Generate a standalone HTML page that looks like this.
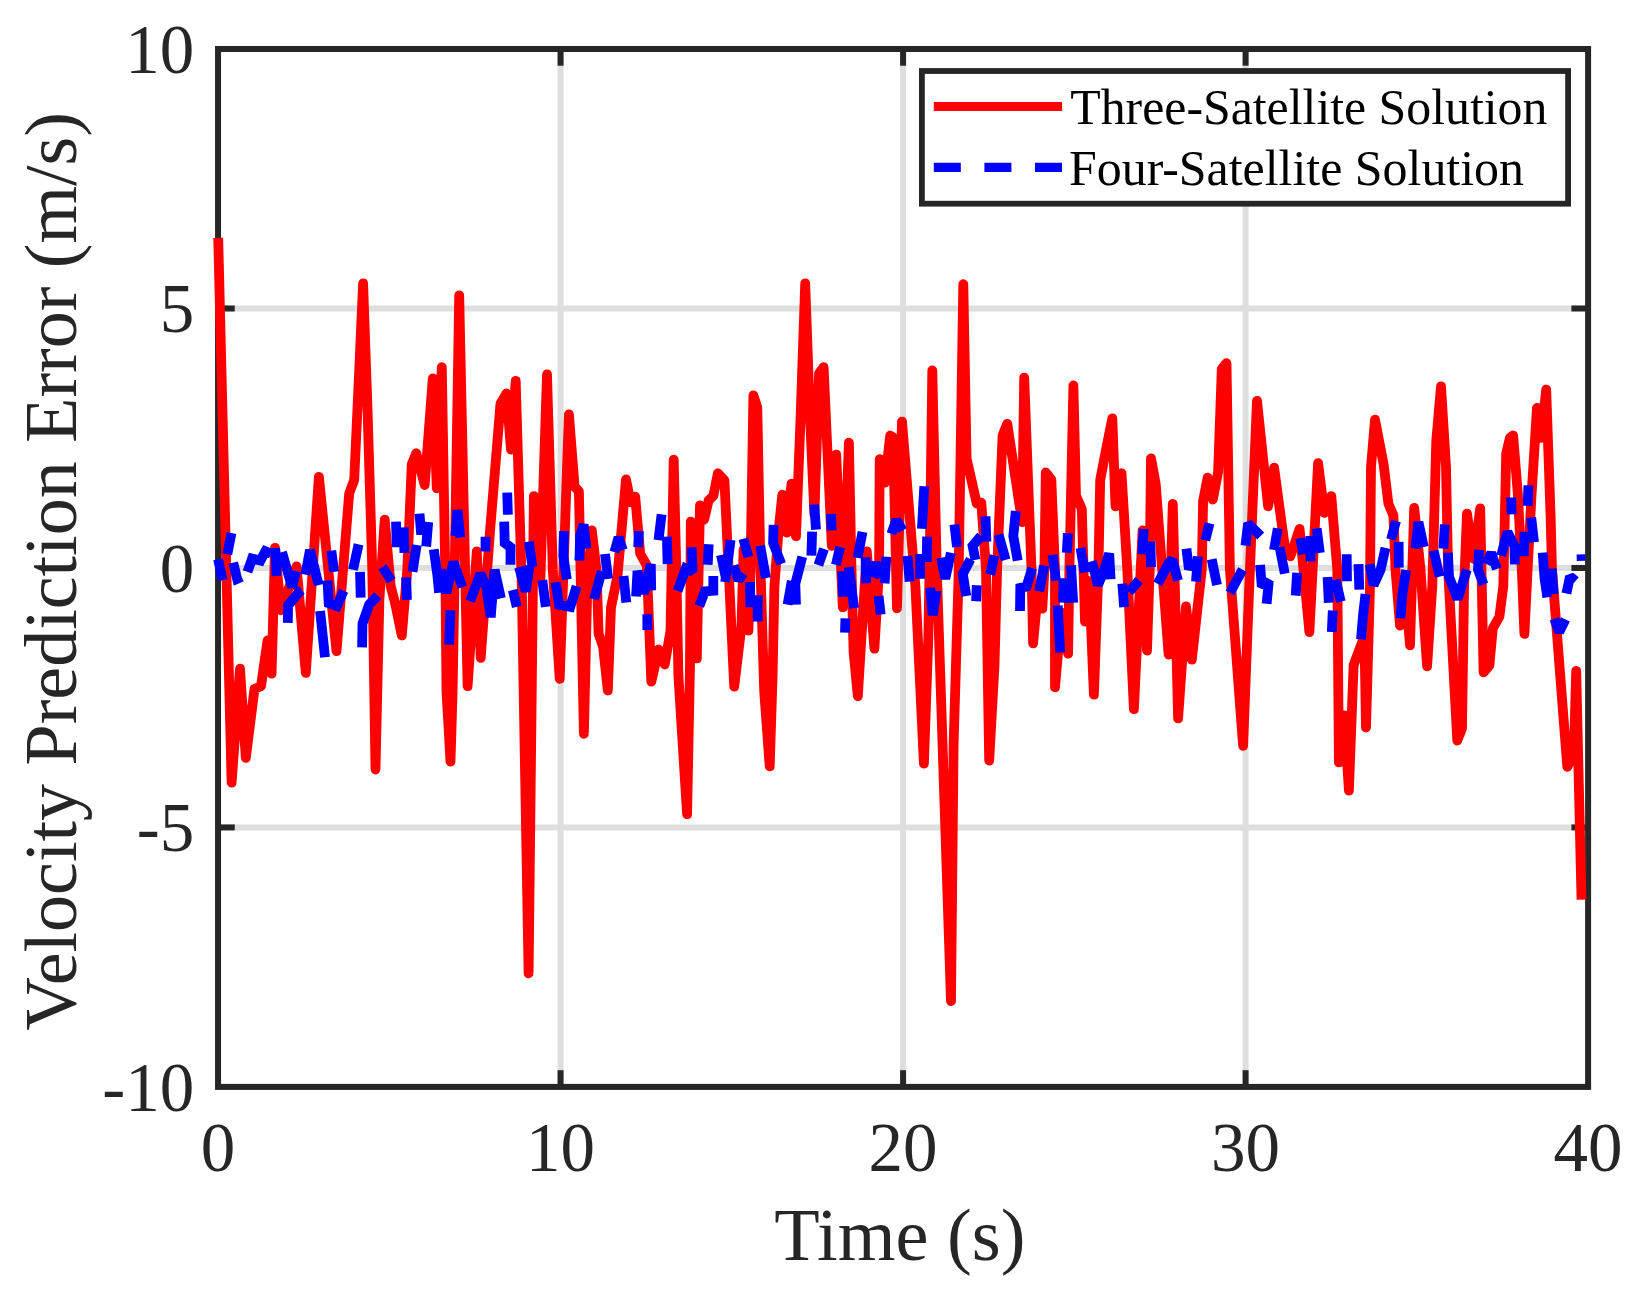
<!DOCTYPE html>
<html lang="en">
<head>
<meta charset="utf-8">
<title>Velocity Prediction Error</title>
<style>
html,body{margin:0;padding:0;background:#ffffff;}
body{width:1642px;height:1293px;overflow:hidden;position:relative;}
svg text{font-family:"Liberation Serif",serif;}
</style>
</head>
<body>
<svg width="1642" height="1293" viewBox="0 0 1642 1293" style="position:absolute;left:0;top:0">
<rect x="0" y="0" width="1642" height="1293" fill="#ffffff"/>
<line x1="560.56" y1="49.00" x2="560.56" y2="1086.90" stroke="#dedede" stroke-width="6"/>
<line x1="903.08" y1="49.00" x2="903.08" y2="1086.90" stroke="#dedede" stroke-width="6"/>
<line x1="1245.59" y1="49.00" x2="1245.59" y2="1086.90" stroke="#dedede" stroke-width="6"/>
<line x1="218.05" y1="308.48" x2="1588.10" y2="308.48" stroke="#dedede" stroke-width="6"/>
<line x1="218.05" y1="567.95" x2="1588.10" y2="567.95" stroke="#dedede" stroke-width="6"/>
<line x1="218.05" y1="827.43" x2="1588.10" y2="827.43" stroke="#dedede" stroke-width="6"/>
<line x1="560.56" y1="1086.90" x2="560.56" y2="1070.20" stroke="#262626" stroke-width="6"/>
<line x1="560.56" y1="49.00" x2="560.56" y2="65.70" stroke="#262626" stroke-width="6"/>
<line x1="903.08" y1="1086.90" x2="903.08" y2="1070.20" stroke="#262626" stroke-width="6"/>
<line x1="903.08" y1="49.00" x2="903.08" y2="65.70" stroke="#262626" stroke-width="6"/>
<line x1="1245.59" y1="1086.90" x2="1245.59" y2="1070.20" stroke="#262626" stroke-width="6"/>
<line x1="1245.59" y1="49.00" x2="1245.59" y2="65.70" stroke="#262626" stroke-width="6"/>
<line x1="218.05" y1="308.48" x2="234.75" y2="308.48" stroke="#262626" stroke-width="6"/>
<line x1="1588.10" y1="308.48" x2="1571.40" y2="308.48" stroke="#262626" stroke-width="6"/>
<line x1="218.05" y1="567.95" x2="234.75" y2="567.95" stroke="#262626" stroke-width="6"/>
<line x1="1588.10" y1="567.95" x2="1571.40" y2="567.95" stroke="#262626" stroke-width="6"/>
<line x1="218.05" y1="827.43" x2="234.75" y2="827.43" stroke="#262626" stroke-width="6"/>
<line x1="1588.10" y1="827.43" x2="1571.40" y2="827.43" stroke="#262626" stroke-width="6"/>
<rect x="218.05" y="49.00" width="1370.05" height="1037.90" fill="none" stroke="#262626" stroke-width="6"/>
<g fill="none" stroke-linejoin="round">
<path d="M218.2 237.9 L231.6 782.6 L240.0 668.7 L245.8 757.9 L254.5 688.9 L261.0 686.3 L267.6 640.3 L271.6 673.7 L275.0 547.9 L280.8 610.3 L296.6 566.3 L305.8 672.9 L318.9 476.8 L336.5 651.1 L349.2 493.4 L354.2 480.0 L358.9 377.4 L363.1 283.4 L367.6 411.6 L372.3 569.5 L375.5 769.5 L379.4 599.5 L384.7 519.7 L390.7 586.3 L395.2 603.4 L401.8 635.5 L407.3 569.5 L411.8 464.2 L416.3 453.2 L424.7 485.0 L432.8 378.4 L436.8 488.4 L441.8 367.1 L445.5 586.3 L446.5 691.6 L450.5 761.6 L452.6 691.6 L454.7 569.5 L459.2 295.3 L467.6 686.1 L476.8 551.3 L480.7 657.9 L489.9 532.6 L500.5 403.7 L506.5 393.4 L511.0 449.5 L515.7 380.8 L521.8 586.3 L528.6 973.4 L533.9 496.1 L540.4 578.4 L547.0 374.5 L552.8 569.5 L559.7 678.9 L568.9 414.5 L574.6 486.6 L578.9 491.3 L583.9 733.9 L587.3 586.3 L591.8 530.3 L596.5 569.5 L598.6 633.7 L603.1 646.8 L607.8 690.5 L611.0 607.4 L617.5 575.8 L626.0 479.5 L630.7 502.4 L635.2 496.6 L640.2 553.7 L646.8 565.5 L651.3 681.6 L658.7 649.5 L664.7 664.5 L670.5 631.1 L673.7 459.7 L676.3 569.5 L678.4 675.8 L687.1 814.2 L690.0 665.3 L690.8 521.6 L696.8 658.4 L700.0 505.3 L704.2 519.5 L708.6 500.5 L713.4 495.8 L717.9 473.2 L724.4 480.3 L734.2 686.6 L741.5 625.8 L743.6 549.5 L748.4 630.5 L750.5 569.5 L753.4 395.3 L757.3 407.6 L760.5 569.5 L764.2 691.6 L769.7 766.3 L772.6 675.8 L774.4 586.3 L778.4 532.6 L782.3 494.7 L786.8 532.6 L791.5 483.7 L796.0 536.3 L800.7 414.2 L805.2 283.4 L809.9 414.2 L814.4 514.2 L819.1 373.4 L823.6 367.1 L831.8 545.8 L836.2 454.7 L842.8 607.4 L848.9 442.6 L851.5 569.5 L853.6 652.1 L857.8 696.1 L866.8 551.3 L874.4 648.7 L879.1 569.5 L879.7 459.2 L884.9 482.6 L890.2 435.5 L893.1 437.4 L897.0 608.4 L902.0 421.6 L915.4 586.3 L923.9 763.7 L928.3 638.9 L929.6 569.5 L932.3 370.5 L936.8 569.5 L951.0 1001.1 L953.6 744.2 L958.6 575.8 L963.3 284.2 L966.6 458.9 L976.8 503.7 L981.3 502.6 L986.0 569.5 L989.2 760.5 L994.5 665.3 L997.1 569.5 L1002.6 435.3 L1007.3 423.7 L1022.1 522.1 L1024.2 377.6 L1031.5 569.5 L1033.1 643.4 L1037.9 591.6 L1042.3 608.7 L1044.4 569.5 L1045.8 472.4 L1051.3 479.5 L1055.0 569.5 L1055.0 687.4 L1061.5 612.6 L1068.1 653.7 L1069.4 569.5 L1073.4 385.5 L1076.0 495.8 L1081.8 508.9 L1085.0 621.6 L1089.2 581.1 L1093.9 694.7 L1098.4 569.5 L1100.2 480.0 L1106.3 448.4 L1112.3 418.4 L1115.5 506.3 L1121.5 473.2 L1127.3 569.5 L1133.9 709.2 L1142.6 530.3 L1147.0 650.5 L1149.7 569.5 L1151.0 458.4 L1155.7 483.9 L1168.6 654.5 L1172.8 503.9 L1178.1 718.4 L1186.0 606.3 L1191.8 659.7 L1197.0 612.6 L1201.8 569.5 L1203.1 501.1 L1207.6 477.6 L1212.8 499.5 L1218.1 472.1 L1221.8 368.9 L1226.5 363.2 L1229.9 569.5 L1243.1 745.8 L1249.9 569.5 L1257.0 400.8 L1268.1 506.3 L1274.1 467.6 L1285.2 549.7 L1290.4 556.3 L1299.6 528.9 L1309.4 632.1 L1318.1 463.2 L1324.4 512.9 L1331.3 496.1 L1337.3 569.5 L1338.9 762.4 L1344.2 715.3 L1348.9 790.5 L1353.6 665.3 L1358.9 650.8 L1364.4 636.3 L1366.0 727.6 L1370.0 586.3 L1371.0 466.8 L1375.0 419.7 L1383.6 464.2 L1388.4 503.7 L1393.4 515.5 L1395.5 569.5 L1400.0 625.5 L1405.2 586.3 L1410.0 645.3 L1414.2 507.9 L1420.5 569.5 L1427.1 666.3 L1432.3 586.3 L1436.3 440.5 L1441.0 386.3 L1446.0 466.8 L1448.1 569.5 L1457.3 740.5 L1462.0 728.4 L1464.1 586.3 L1467.0 513.7 L1473.6 558.9 L1480.2 508.4 L1483.6 672.4 L1489.4 665.3 L1492.8 628.4 L1499.4 616.6 L1503.3 586.3 L1506.2 453.7 L1509.9 437.9 L1513.1 435.5 L1517.8 493.2 L1521.8 569.5 L1524.4 633.9 L1527.6 569.5 L1531.5 495.8 L1537.0 407.9 L1541.0 437.9 L1546.2 389.5 L1550.7 519.5 L1552.0 569.5 L1567.3 766.8 L1573.9 753.4 L1576.2 670.8 L1581.5 899.7" stroke="#ff0000" stroke-width="9.8" stroke-linecap="butt"/>
<path d="M218.1 559.2 L222.7 580.2 M227.3 554.2 L231.5 533.0 M233.2 562.7 L237.1 578.8 L241.6 576.7 M247.5 571.8 L252.1 558.5 L260.5 560.6 L265.4 551.2 L271.0 553.5 M275.2 547.9 L276.6 576.0 M282.0 552.1 L292.0 587.2 L296.0 571.1 M287.8 622.9 L288.1 605.4 L299.0 592.1 L301.8 590.0 M305.3 574.6 L310.0 550.0 L318.7 585.1 M320.1 611.0 L325.0 657.2 M327.5 580.6 L328.7 603.3 L336.9 606.1 L343.6 590.7 M331.3 550.7 L334.1 571.8 M353.0 569.7 L358.6 544.4 M360.0 571.8 L360.7 597.7 M362.1 647.4 L362.5 623.6 L369.1 604.7 L377.8 595.6 M382.4 566.9 L391.5 580.9 M396.0 521.7 L396.8 547.2 M403.8 527.4 L404.4 552.8 M406.2 577.4 L406.9 599.8 M412.5 571.8 L416.7 545.1 M419.5 513.6 L421.2 534.6 M428.2 522.0 L426.2 546.5 M433.8 549.3 L437.4 575.3 L439.1 592.8 M455.4 536.0 L457.5 510.1 L460.3 537.4 M507.2 492.6 L507.9 514.7 M485.5 536.7 L485.5 551.4 M504.2 521.7 L504.7 543.0 L510.5 547.2 L510.5 564.8 M528.9 541.6 L532.4 566.9 M440.7 569.7 L446.3 592.8 L453.3 562.0 L462.4 587.2 M450.5 610.3 L449.1 644.6 M470.1 601.2 L480.3 573.6 L486.2 586.5 L490.7 617.3 M490.7 617.3 L494.6 569.7 L500.9 598.4 M512.8 590.0 L516.8 606.8 M519.1 567.1 L525.7 591.4 L529.6 565.7 M542.3 580.2 L545.8 606.8 M555.6 582.3 L559.1 604.7 L570.3 606.8 L576.6 586.2 M564.0 531.1 L563.3 555.7 L566.8 579.5 M579.4 560.6 L580.1 536.0 L583.6 524.5 L586.4 548.6 M594.1 599.1 L601.8 571.1 M605.0 554.0 L608.1 578.8 M614.4 552.1 L618.6 537.4 L622.8 550.0 M638.9 531.1 L638.2 547.2 M623.5 576.0 L626.3 602.6 M636.1 596.6 L637.5 571.1 L643.8 593.5 L650.8 564.1 L651.2 590.4 M647.3 614.2 L647.3 629.9 M658.5 540.2 L661.6 514.3 M666.9 536.7 L667.6 564.1 M677.6 591.0 L685.7 568.5 L692.7 571.8 L691.6 547.2 M708.7 544.2 L707.7 564.8 M699.3 606.1 L704.9 591.4 L713.3 590.7 L713.3 576.0 M730.6 540.0 L725.2 582.0 M721.0 554.9 L725.9 578.1 M733.6 565.5 L738.5 580.2 L743.4 573.2 M743.4 538.8 L748.3 557.1 M760.2 545.6 L765.9 578.1 M773.6 524.8 L773.1 543.0 L781.3 564.1 M750.0 582.0 L750.4 607.2 M757.7 595.2 L757.7 621.5 M787.6 604.7 L791.8 580.9 M796.0 604.7 L795.3 583.7 L802.3 556.8 M812.1 531.6 L811.4 555.7 M814.2 504.5 L816.0 529.7 M831.0 513.9 L831.7 530.4 M818.4 565.2 L824.0 548.9 M835.9 564.8 L840.1 547.0 M857.6 557.8 L862.5 531.8 M842.2 571.1 L843.2 596.6 M848.8 567.1 L854.1 608.2 M865.6 557.3 L866.1 583.4 M870.9 576.7 L875.8 562.7 L880.7 578.1 M886.3 556.8 L884.6 583.4 M878.6 596.0 L880.7 614.5 M845.4 618.4 L845.0 632.7 M891.4 533.9 L896.3 519.9 L902.6 530.4 M924.3 486.3 L921.9 528.8 M927.1 536.7 L926.7 562.0 M920.1 554.0 L920.1 578.8 M907.5 555.9 L909.6 581.6 M941.1 557.8 L945.3 578.8 L950.9 552.8 M930.3 587.6 L932.7 615.2 L936.5 590.4 M954.4 524.5 L957.0 547.0 M985.5 516.4 L986.4 541.6 M981.0 536.0 L972.6 545.8 L975.4 559.9 M970.5 559.2 L962.8 573.9 L966.3 596.0 M976.8 585.3 L976.1 601.2 M998.6 534.6 L1005.6 559.9 M990.2 574.6 L994.4 555.4 M1015.8 511.1 L1013.3 536.0 L1017.7 560.6 M1020.0 611.0 L1020.3 587.9 L1026.6 586.5 L1032.2 568.0 M1039.2 591.4 L1044.1 565.7 M1052.5 554.9 L1056.0 580.6 M1067.9 533.2 L1066.8 552.8 M1063.1 602.6 L1063.7 578.1 M1071.0 565.2 L1073.2 602.7 M1057.7 605.4 L1060.2 652.6 M1080.5 547.9 L1084.7 572.5 M1091.7 561.3 L1098.0 585.1 L1104.3 569.7 L1109.2 553.5 L1110.6 579.2 M1124.1 607.2 L1122.3 583.7 M1129.0 592.1 L1139.1 580.2 M1143.7 529.0 L1142.3 554.2 M1150.3 541.6 L1151.1 567.1 M1157.7 583.9 L1168.9 562.7 L1172.4 559.9 L1178.0 580.6 M1186.4 548.6 L1188.5 565.5 L1196.2 566.9 M1197.9 556.4 L1196.0 581.6 M1205.3 540.2 L1209.5 523.4 M1211.7 559.2 L1217.0 585.1 M1229.9 592.8 L1242.5 569.7 M1245.5 545.6 L1248.1 523.4 L1260.7 536.0 M1260.1 564.8 L1261.8 586.5 L1268.8 580.9 L1266.6 603.7 M1277.8 528.3 L1274.0 550.0 M1279.6 547.2 L1284.8 573.6 M1297.1 572.7 L1295.7 595.6 M1300.2 538.1 L1303.4 554.2 M1310.4 536.0 L1310.5 561.5 M1316.7 528.3 L1319.8 552.8 M1327.6 577.1 L1328.8 602.7 M1335.6 579.7 L1340.8 601.6 M1332.8 610.6 L1331.8 632.0 M1347.0 581.3 L1346.7 554.2 M1358.5 564.1 L1359.3 589.7 M1369.8 564.1 L1373.6 585.1 L1380.6 569.7 L1385.5 547.9 M1365.5 594.2 L1363.1 614.5 L1361.0 639.4 M1391.1 539.5 L1396.0 520.9 M1398.6 541.9 L1398.8 567.6 M1406.1 569.9 L1402.3 594.9 L1400.5 618.4 M1415.4 548.6 L1418.4 522.0 L1423.8 547.0 M1444.8 524.5 L1443.4 548.6 M1433.6 550.7 L1439.7 576.7 M1447.9 552.6 L1449.0 576.7 L1457.7 599.1 L1466.8 569.7 M1479.0 549.8 L1478.0 569.7 L1483.6 584.4 M1486.4 564.1 L1491.3 552.8 L1496.9 569.0 M1501.1 555.7 L1507.4 532.1 L1514.4 545.8 L1514.8 564.5 M1523.8 556.1 L1524.6 531.8 M1531.2 517.5 L1534.0 542.3 M1511.2 497.5 L1511.6 514.3 M1528.4 485.3 L1527.7 505.9 M1542.7 552.6 L1544.5 578.1 L1547.3 597.4 M1551.8 568.5 L1553.6 594.2 M1554.3 618.7 L1559.2 632.0 L1565.5 619.4 M1566.4 593.5 L1570.0 576.4 L1575.6 581.1" stroke="#0000ff" stroke-width="9.8" stroke-linecap="butt" stroke-linejoin="miter" stroke-miterlimit="1.6"/>
<path d="M1576.7 557.8 L1585.4 557.5" stroke="#0000ff" stroke-width="6.6" stroke-linecap="butt"/>
</g>
<text x="218.05" y="1171.1" font-size="69" text-anchor="middle" fill="#262626">0</text>
<text x="560.56" y="1171.1" font-size="69" text-anchor="middle" fill="#262626">10</text>
<text x="903.08" y="1171.1" font-size="69" text-anchor="middle" fill="#262626">20</text>
<text x="1245.59" y="1171.1" font-size="69" text-anchor="middle" fill="#262626">30</text>
<text x="1588.10" y="1171.1" font-size="69" text-anchor="middle" fill="#262626">40</text>
<text x="194.3" y="72.60" font-size="69" text-anchor="end" fill="#262626">10</text>
<text x="194.3" y="332.08" font-size="69" text-anchor="end" fill="#262626">5</text>
<text x="194.3" y="591.55" font-size="69" text-anchor="end" fill="#262626">0</text>
<text x="194.3" y="851.03" font-size="69" text-anchor="end" fill="#262626">-5</text>
<text x="194.3" y="1110.50" font-size="69" text-anchor="end" fill="#262626">-10</text>
<text x="899.8" y="1260.1" font-size="74.3" text-anchor="middle" fill="#262626">Time (s)</text>
<text transform="translate(75.7,571.3) rotate(-90)" font-size="74" text-anchor="middle" fill="#262626">Velocity Prediction Error (m/s)</text>
<rect x="921.9" y="71.0" width="646.2" height="132.7" fill="#ffffff" stroke="#262626" stroke-width="5.8"/>
<line x1="933.8" y1="106.5" x2="1062.1" y2="106.5" stroke="#ff0000" stroke-width="9.1"/>
<line x1="933.8" y1="167.4" x2="1062.1" y2="167.4" stroke="#0000ff" stroke-width="9.1" stroke-dasharray="27 23.6"/>
<text x="1070.3" y="124.3" font-size="49.8" fill="#000000">Three-Satellite Solution</text>
<text x="1069" y="185.3" font-size="49.9" fill="#000000">Four-Satellite Solution</text>
</svg>
</body>
</html>
